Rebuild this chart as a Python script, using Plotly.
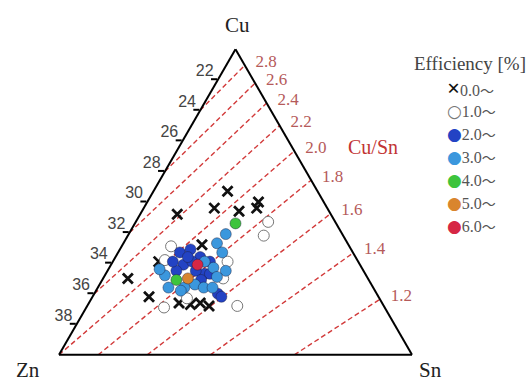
import plotly.graph_objects as go

# ---- axis ranges (at.%) ----
CU_MIN, ZN_MIN, SN_MIN = 40, 20, 20
ZN_TICKS = [22, 24, 26, 28, 30, 32, 34, 36, 38]
CU_SN_RATIOS = [1.2, 1.4, 1.6, 1.8, 2.0, 2.2, 2.4, 2.6, 2.8]
EFF_LABELS = ["0.0", "1.0", "2.0", "3.0", "4.0", "5.0", "6.0"]

# ---- compositions per efficiency class (Cu, Zn, Sn in at.%) ----
eff0_cu = [50.7, 49.6, 49.2, 49.4, 50.0, 49.6, 47.2, 46.1, 45.0, 43.8, 43.4, 43.3, 43.4, 43.2]
eff0_zn = [25.1, 26.4, 28.7, 25.1, 23.7, 24.0, 28.3, 31.3, 33.6, 33.0, 31.5, 30.9, 30.3, 29.9]
eff0_sn = [24.2, 24.0, 22.1, 25.5, 26.3, 26.4, 24.5, 22.6, 21.4, 23.2, 25.1, 25.8, 26.3, 26.9]

eff1_cu = [48.7, 47.8, 47.1, 46.2, 46.1, 45.0, 43.7, 43.1, 43.2]
eff1_zn = [23.8, 24.5, 30.1, 30.9, 27.4, 28.2, 30.9, 32.5, 28.3]
eff1_sn = [27.5, 27.7, 22.8, 22.9, 26.5, 26.8, 25.4, 24.4, 28.5]

eff2_cu = [46.7, 46.9, 46.4, 45.9, 45.5, 45.3, 45.3, 44.0, 43.8, 46.1, 46.1, 46.1, 45.5, 46.4, 44.9]
eff2_zn = [29.8, 29.1, 28.8, 30.0, 30.6, 29.1, 28.8, 29.0, 28.9, 29.4, 30.5, 28.4, 29.5, 29.5, 29.5]
eff2_sn = [23.5, 24.0, 24.8, 24.1, 23.9, 25.6, 25.9, 27.0, 27.3, 24.5, 23.4, 25.5, 25.0, 24.1, 25.6]

eff3_cu = [47.3, 47.9, 46.7, 45.7, 45.5, 45.2, 44.4, 44.6, 44.4, 44.4, 45.1, 45.6, 44.4, 46.1, 44.2]
eff3_zn = [27.4, 26.6, 27.4, 28.4, 27.8, 31.4, 31.6, 30.0, 29.6, 29.1, 28.5, 31.5, 30.7, 28.7, 31.0]
eff3_sn = [25.3, 25.5, 25.9, 25.9, 26.7, 23.4, 24.0, 25.4, 26.0, 26.5, 26.4, 22.9, 24.9, 25.2, 24.8]

eff4_cu = [48.6, 44.9]
eff4_zn = [25.7, 30.9]
eff4_sn = [25.7, 24.2]

eff5_cu = [45.0]
eff5_zn = [30.2]
eff5_sn = [24.8]

eff6_cu = [45.9]
eff6_zn = [29.2]
eff6_sn = [24.9]

SERIF = "Liberation Serif"
COLORS = ["#111111", "#ffffff", "#2343c4", "#3b97dd", "#3dc43d", "#d9852e", "#d62745"]
W, H = 528, 381


def px(x):
    return x / W


def py(y):
    return 1 - y / H


fig = go.Figure()

# ---- Cu/Sn iso-ratio lines ----
line_color = "#d23a3a"
lab_a, lab_b, lab_c, lab_t = [], [], [], []
LAB_SLIDE = 0.2   # labels slide slightly up along the Zn = ZN_MIN edge
EPS = 0.02        # keep label anchors safely inside the triangle
for r in CU_SN_RATIOS:
    sn_end = (100 - ZN_MIN) / (1 + r)
    cu_end = r * sn_end
    if r * SN_MIN >= CU_MIN:
        sn_s = SN_MIN
        cu_s = r * SN_MIN
    else:
        cu_s = CU_MIN
        sn_s = CU_MIN / r
    fig.add_trace(go.Scatterternary(
        a=[cu_s, cu_end], b=[100 - cu_s - sn_s, ZN_MIN], c=[sn_s, sn_end],
        mode="lines", line=dict(color=line_color, width=1.4, dash="5px,3px"),
        hoverinfo="skip", showlegend=False))
    lab_b.append(ZN_MIN + EPS)
    lab_c.append(sn_end - LAB_SLIDE)
    lab_a.append(100 - (ZN_MIN + EPS) - (sn_end - LAB_SLIDE))
    lab_t.append("\u00a0\u00a0\u00a0" + f"{r:.1f}")

fig.add_trace(go.Scatterternary(
    a=lab_a, b=lab_b, c=lab_c, text=lab_t, mode="text",
    textposition="middle right", cliponaxis=False,
    textfont=dict(family=SERIF, size=17, color="#b55a5a"),
    hoverinfo="skip", showlegend=False))

# ---- Zn tick labels along the left (Sn = SN_MIN) edge ----
fig.add_trace(go.Scatterternary(
    a=[100 - SN_MIN - EPS - z for z in ZN_TICKS], b=ZN_TICKS, c=[SN_MIN + EPS] * len(ZN_TICKS),
    text=[f"{z} " for z in ZN_TICKS], mode="text", textposition="top left",
    cliponaxis=False, textfont=dict(family="Liberation Sans", size=16, color="#444"),
    hoverinfo="skip", showlegend=False))

# ---- data points ----
series = [
    (eff0_cu, eff0_zn, eff0_sn),
    (eff1_cu, eff1_zn, eff1_sn),
    (eff2_cu, eff2_zn, eff2_sn),
    (eff3_cu, eff3_zn, eff3_sn),
    (eff4_cu, eff4_zn, eff4_sn),
    (eff5_cu, eff5_zn, eff5_sn),
    (eff6_cu, eff6_zn, eff6_sn),
]
for i, (cu, zn, sn) in enumerate(series):
    if i == 0:
        marker = dict(symbol="x-thin", size=10, line=dict(color=COLORS[0], width=2.8))
    elif i == 1:
        marker = dict(symbol="circle", size=11, color=COLORS[1],
                      line=dict(color="#777777", width=1))
    else:
        marker = dict(symbol="circle", size=11, color=COLORS[i],
                      line=dict(color="rgba(30,30,60,0.55)", width=0.8))
    fig.add_trace(go.Scatterternary(
        a=cu, b=zn, c=sn, mode="markers", marker=marker,
        name=EFF_LABELS[i] + "~", showlegend=False))

# ---- legend drawn as text ----
glyphs = ["\u00d7", "\u25cb", "\u25cf", "\u25cf", "\u25cf", "\u25cf", "\u25cf"]
annotations = [dict(text="Efficiency [%]", x=px(412), y=py(63), xref="paper", yref="paper",
                    xanchor="left", yanchor="middle", showarrow=False,
                    font=dict(family=SERIF, size=19, color="#444444"))]
for i, lab in enumerate(EFF_LABELS):
    gcol = "#111111" if i == 0 else ("#777777" if i == 1 else COLORS[i])
    glyph = (f"<span style='color:{gcol};font-size:23px'><b>{glyphs[i]}</b></span>" if i == 0 else
             f"<span style='color:{gcol};font-family:DejaVu Sans;font-size:17px'>{glyphs[i]}</span>")
    annotations.append(dict(
        text=(glyph + lab +
              "<span style='font-family:Noto Sans CJK JP;font-size:14px'>\u301c</span>"),
        x=px(445), y=py(88 + 23 * i), xref="paper", yref="paper",
        xanchor="left", yanchor="middle", showarrow=False,
        font=dict(family=SERIF, size=16, color="#555555")))
annotations.append(dict(text="Cu/Sn", x=px(346), y=py(147), xref="paper", yref="paper",
                        xanchor="left", yanchor="middle", showarrow=False,
                        font=dict(family=SERIF, size=20, color="#c23434")))
# vertex names
for name, xx, yy in [("Cu", 237, 25), ("Zn", 28, 370), ("Sn", 430, 370)]:
    annotations.append(dict(text=name, x=px(xx), y=py(yy), xref="paper", yref="paper",
                            xanchor="center", yanchor="middle", showarrow=False,
                            font=dict(family=SERIF, size=21, color="#222222")))

axis_common = dict(showgrid=False, linecolor="black", linewidth=2, title=dict(text=""))
fig.update_layout(
    width=W, height=H,
    margin=dict(l=0, r=0, t=0, b=0),
    paper_bgcolor="white",
    showlegend=False,
    annotations=annotations,
    ternary=dict(
        sum=100,
        bgcolor="white",
        domain=dict(x=[px(59), px(412)], y=[py(355), py(49)]),
        aaxis=dict(min=CU_MIN, tickmode="array",
                   tickvals=[100 - SN_MIN - z for z in ZN_TICKS],
                   ticktext=["" for z in ZN_TICKS],
                   showticklabels=True,
                   ticks="outside", ticklen=6, tickwidth=1.5, tickcolor="black",
                   **axis_common),
        baxis=dict(min=ZN_MIN, showticklabels=False, ticks="", **axis_common),
        caxis=dict(min=SN_MIN, showticklabels=False, ticks="", **axis_common),
    ),
)

fig.write_html("out.html", config={"displayModeBar": False},
               post_script="document.body.style.margin='0';")
